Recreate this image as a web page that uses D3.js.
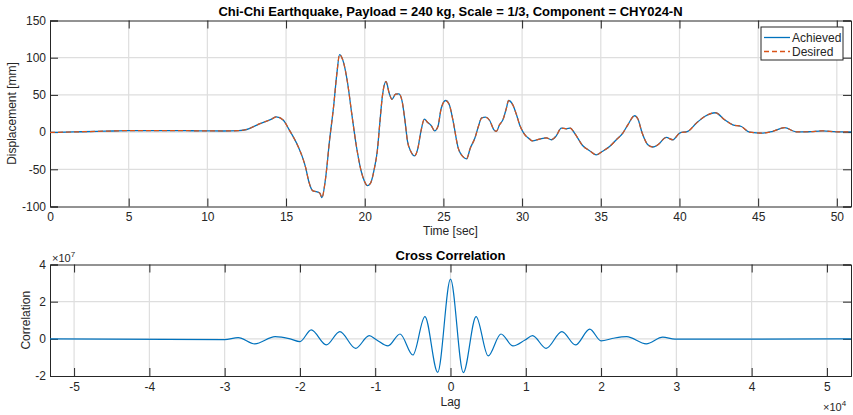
<!DOCTYPE html>
<html>
<head>
<meta charset="utf-8">
<script src="https://cdn.jsdelivr.net/npm/d3@7"></script>
<style>
  body { margin: 0; background: #fff; }
  svg { font-family: "Liberation Sans", Arial, Helvetica, sans-serif; }
</style>
</head>
<body>
<script>
// time axis of the displacement history [sec]
const timeSec = [0, 1, 2, 3, 4, 5, 6, 7, 8, 9, 10, 11, 12, 12.5, 13.3, 14.08, 14.38, 14.8, 15.23, 15.76,
  16.03, 16.25, 16.44, 16.71, 16.92, 17.14, 17.28, 17.5, 17.77, 18.02, 18.23, 18.4, 18.66, 18.91, 19.17,
  19.47, 19.78, 19.98, 20.17, 20.36, 20.62, 20.8, 20.95, 21.12, 21.35, 21.56, 21.73, 21.96, 22.17, 22.38,
  22.55, 22.72, 22.93, 23.17, 23.38, 23.57, 23.79, 24.0, 24.23, 24.44, 24.65, 24.86, 25.14, 25.37, 25.6,
  25.94, 26.24, 26.47, 26.71, 27.0, 27.22, 27.43, 27.68, 27.94, 28.21, 28.36, 28.57, 28.78, 29.0, 29.14,
  29.4, 29.65, 29.84, 30.1, 30.48, 30.65, 31.11, 31.54, 31.86, 32.17, 32.49, 32.81, 33.06, 33.33, 33.86,
  34.29, 34.71, 35.09, 35.56, 35.99, 36.4, 36.72, 37.15, 37.36, 37.63, 37.99, 38.31, 38.63, 39.16, 39.58,
  40.01, 40.53, 41.07, 41.6, 42.29, 42.87, 43.39, 43.93, 44.45, 45.3, 45.93, 46.68, 47.42, 48.2, 49.11,
  50.0, 50.9];

// achieved table displacement [mm]
const achievedMm = [-0.5, 0, 0.5, 1, 1.5, 2, 2, 2, 2, 1.8, 1.7, 1.5, 2, 3.5, 11, 17.5, 20.5, 16.5, 2, -19,
  -33, -48, -66, -79, -80, -82, -88, -64, -10, 34, 79, 104, 93, 66, 25.5,
  -19, -53, -66, -72, -69, -48, -25, 10, 48, 68, 52, 44, 51, 51.5, 41,
  16.5, -12.6, -26, -32, -21.5, 1, 17.5, 13, 8.5, 1.7, 7.5, 32, 42.5, 37, 16.5,
  -21.5, -33, -36, -21.5, -8, 7.5, 19, 20, 15.6, 3, 1, 10, 16.5, 32, 42.5,
  37, 23, 10, -1.3, -9.4, -11.7, -9.4, -7.7, -10.3, -5, 5.4, 4.4, 5.4, -1.3, -18.4,
  -25, -30.5, -26, -19.4, -10.3, -1.3, 9.8, 22, 17.5, -1.3, -17, -20, -17, -7.2, -10.3,
  -1.3, 1, 12, 21, 26, 16.5, 9.8, 7.5, 0, -1.3, 1, 6, 0.4, 0.5, 1.7,
  0.4, 0.4];

// desired (reference) displacement [mm] - lies on top of the achieved trace
const desiredMm = [-0.5, 0, 0.5, 1, 1.5, 2, 2, 2, 2, 1.8, 1.7, 1.5, 2, 3.5, 11, 17.5, 20.5, 16.5, 2, -19,
  -33, -48, -66, -79, -80, -82, -88, -64, -10, 34, 79, 104, 93, 66, 25.5,
  -19, -53, -66, -72, -69, -48, -25, 10, 48, 68, 52, 44, 51, 51.5, 41,
  16.5, -12.6, -26, -32, -21.5, 1, 17.5, 13, 8.5, 1.7, 7.5, 32, 42.5, 37, 16.5,
  -21.5, -33, -36, -21.5, -8, 7.5, 19, 20, 15.6, 3, 1, 10, 16.5, 32, 42.5,
  37, 23, 10, -1.3, -9.4, -11.7, -9.4, -7.7, -10.3, -5, 5.4, 4.4, 5.4, -1.3, -18.4,
  -25, -30.5, -26, -19.4, -10.3, -1.3, 9.8, 22, 17.5, -1.3, -17, -20, -17, -7.2, -10.3,
  -1.3, 1, 12, 21, 26, 16.5, 9.8, 7.5, 0, -1.3, 1, 6, 0.4, 0.5, 1.7,
  0.4, 0.4];

// cross correlation, lag in units of 1e4 samples, correlation in units of 1e7
const lagE4 = [-5.32, -3.0, -2.82, -2.6, -2.33, -2.13, -2.0, -1.85, -1.65, -1.47, -1.26, -1.08, -0.98,
  -0.83, -0.67, -0.5, -0.34, -0.17, 0, 0.17, 0.34, 0.5, 0.67, 0.83, 0.99, 1.09, 1.27, 1.48, 1.66, 1.85,
  2.0, 2.16, 2.34, 2.6, 2.82, 2.98, 5.32];
const corrE7 = [0, -0.04, 0.07, -0.27, 0.12, 0, -0.15, 0.48, -0.33, 0.39, -0.51, 0.17, -0.06,
  -0.38, 0.26, -0.87, 1.2, -1.8, 3.21, -1.82, 1.2, -0.92, 0.26, -0.38, -0.06, 0.17, -0.51, 0.39, -0.33, 0.52,
  -0.11, 0.03, 0.12, -0.27, 0.09, -0.02, 0];

const timeTicks = [0, 5, 10, 15, 20, 25, 30, 35, 40, 45, 50];
const dispTicks = [-100, -50, 0, 50, 100, 150];
const lagTicks = [-5, -4, -3, -2, -1, 0, 1, 2, 3, 4, 5];
const corrTicks = [-2, 0, 2, 4];

const seriesNames = ['Achieved', 'Desired'];
const titleTop = 'Chi-Chi Earthquake, Payload = 240 kg, Scale = 1/3, Component = CHY024-N';
const titleBottom = 'Cross Correlation';

const W = 853, H = 415;
const BLUE = '#0072bd', ORANGE = '#d95319', INK = '#262626', GRID = '#dedede';

const svg = d3.select('body').append('svg')
  .attr('width', W).attr('height', H)
  .attr('viewBox', `0 0 ${W} ${H}`);

// draw one MATLAB-like axes box with inward ticks and a grid
function drawAxes(box, x, y, xTicks, yTicks) {
  const g = svg.append('g');
  const fmt = d => String(d);

  // grid
  g.append('g').selectAll('line').data(xTicks.filter(t => x(t) > box.left + 1 && x(t) < box.right - 1))
    .enter().append('line')
    .attr('x1', d => x(d)).attr('x2', d => x(d))
    .attr('y1', box.top).attr('y2', box.bottom)
    .attr('stroke', GRID).attr('stroke-width', 1.2);
  g.append('g').selectAll('line').data(yTicks.filter(t => y(t) > box.top + 1 && y(t) < box.bottom - 1))
    .enter().append('line')
    .attr('y1', d => y(d)).attr('y2', d => y(d))
    .attr('x1', box.left).attr('x2', box.right)
    .attr('stroke', GRID).attr('stroke-width', 1.2);

  const axes = [
    g.append('g').attr('transform', `translate(0,${box.bottom})`)
      .call(d3.axisBottom(x).tickValues(xTicks).tickFormat(fmt).tickSize(-8).tickPadding(6)),
    g.append('g').attr('transform', `translate(0,${box.top})`)
      .call(d3.axisTop(x).tickValues(xTicks).tickFormat('').tickSize(-8)),
    g.append('g').attr('transform', `translate(${box.left},0)`)
      .call(d3.axisLeft(y).tickValues(yTicks).tickFormat(fmt).tickSize(-8).tickPadding(4)),
    g.append('g').attr('transform', `translate(${box.right},0)`)
      .call(d3.axisRight(y).tickValues(yTicks).tickFormat('').tickSize(-8))
  ];
  axes.forEach(a => {
    a.select('.domain').attr('stroke', INK).attr('stroke-width', 1);
    a.selectAll('.tick line').attr('stroke', INK);
    a.selectAll('.tick text').attr('fill', INK).attr('font-size', 12)
      .attr('font-family', '"Liberation Sans", Arial, sans-serif');
  });
  return g;
}

// ---------- top: displacement history ----------
const topBox = { left: 50, right: 851, top: 20.5, bottom: 206.5 };
const xT = d3.scaleLinear().domain([0, 50.9]).range([topBox.left, topBox.right]);
const yT = d3.scaleLinear().domain([-100, 150]).range([topBox.bottom, topBox.top]);

drawAxes(topBox, xT, yT, timeTicks, dispTicks);

const dispLine = vals => d3.line()
  .x((d, i) => xT(timeSec[i]))
  .y(d => yT(d))
  .curve(d3.curveMonotoneX)(vals);

svg.append('path').attr('d', dispLine(achievedMm))
  .attr('fill', 'none').attr('stroke', BLUE).attr('stroke-width', 1.3);
svg.append('path').attr('d', dispLine(desiredMm))
  .attr('fill', 'none').attr('stroke', ORANGE).attr('stroke-width', 1.2)
  .attr('stroke-dasharray', '5,3');

svg.append('text').attr('x', (topBox.left + topBox.right) / 2).attr('y', 16)
  .attr('text-anchor', 'middle').attr('font-weight', 'bold').attr('font-size', 13)
  .attr('fill', '#000').text(titleTop);
svg.append('text').attr('x', (topBox.left + topBox.right) / 2).attr('y', 235)
  .attr('text-anchor', 'middle').attr('font-size', 12).attr('fill', INK).text('Time [sec]');
svg.append('text').attr('transform', `translate(16,${(topBox.top + topBox.bottom) / 2}) rotate(-90)`)
  .attr('text-anchor', 'middle').attr('font-size', 12).attr('fill', INK).text('Displacement [mm]');

// legend
const leg = svg.append('g').attr('transform', 'translate(761,27)');
leg.append('rect').attr('width', 82).attr('height', 33)
  .attr('fill', '#fff').attr('stroke', INK).attr('stroke-width', 1);
seriesNames.forEach((name, i) => {
  const ly = 10.5 + i * 14;
  leg.append('line').attr('x1', 3).attr('x2', 29).attr('y1', ly).attr('y2', ly)
    .attr('stroke', i === 0 ? BLUE : ORANGE).attr('stroke-width', i === 0 ? 1.3 : 1.3)
    .attr('stroke-dasharray', i === 0 ? null : '5,3');
  leg.append('text').attr('x', 31).attr('y', ly + 4.3).attr('font-size', 12)
    .attr('fill', INK).text(name);
});

// ---------- bottom: cross correlation ----------
const botBox = { left: 50, right: 851, top: 264.5, bottom: 376 };
const xB = d3.scaleLinear().domain([-5.32, 5.32]).range([botBox.left, botBox.right]);
const yB = d3.scaleLinear().domain([-2, 4]).range([botBox.bottom, botBox.top]);

drawAxes(botBox, xB, yB, lagTicks, corrTicks);

svg.append('path')
  .attr('d', d3.line().x((d, i) => xB(lagE4[i])).y(d => yB(d)).curve(d3.curveMonotoneX)(corrE7))
  .attr('fill', 'none').attr('stroke', BLUE).attr('stroke-width', 1.2);

svg.append('text').attr('x', (botBox.left + botBox.right) / 2).attr('y', 259.5)
  .attr('text-anchor', 'middle').attr('font-weight', 'bold').attr('font-size', 13)
  .attr('fill', '#000').text(titleBottom);
svg.append('text').attr('x', (botBox.left + botBox.right) / 2).attr('y', 406)
  .attr('text-anchor', 'middle').attr('font-size', 12).attr('fill', INK).text('Lag');
svg.append('text').attr('transform', `translate(30,${(botBox.top + botBox.bottom) / 2}) rotate(-90)`)
  .attr('text-anchor', 'middle').attr('font-size', 12).attr('fill', INK).text('Correlation');

// exponent labels
function expLabel(x, y, exp) {
  const t = svg.append('text').attr('x', x).attr('y', y).attr('font-size', 11).attr('fill', INK);
  t.append('tspan').text('\u00d710');
  t.append('tspan').attr('font-size', 8).attr('dy', -5).text(exp);
}
expLabel(52, 262, '7');
expLabel(823, 411, '4');
</script>
</body>
</html>
